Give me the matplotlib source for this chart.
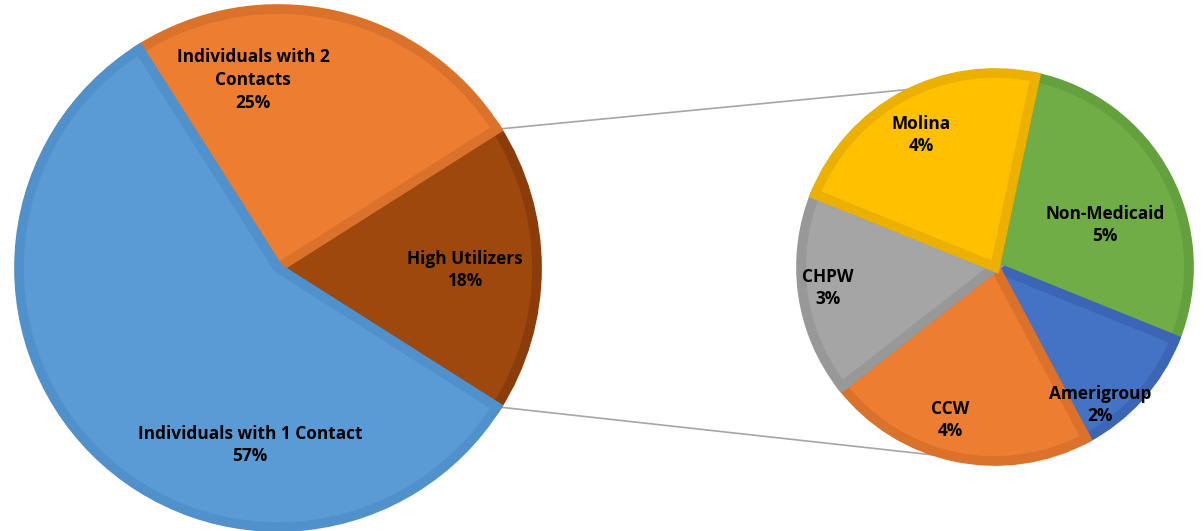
import numpy as np
import matplotlib
matplotlib.use("Agg")
import matplotlib.pyplot as plt

# main pie
main_labels = ["High Utilizers", "Individuals with 2\nContacts", "Individuals with 1 Contact"]
main_values = [18, 25, 57]
main_colors = ["#9E480E", "#ED7D31", "#5B9BD5"]
main_edges = ["#8A3D0B", "#DB722B", "#5090CB"]

# breakdown of high utilizers
sub_labels = ["Non-Medicaid", "Amerigroup", "CCW", "CHPW", "Molina"]
sub_values = [5, 2, 4, 3, 4]
sub_colors = ["#70AD47", "#4472C4", "#ED7D31", "#A5A5A5", "#FFC000"]
sub_edges = ["#64A03E", "#3C66B5", "#DB722B", "#989898", "#EBB000"]

W, H = 1204, 531
fig = plt.figure(figsize=(W / 100, H / 100), dpi=100)
ax = fig.add_axes([0, 0, 1, 1])

c1, r1 = (278, 263), 259
c2, r2 = (995, 264), 194

half = 360 * main_values[0] / 100 / 2
w1, _ = ax.pie(main_values, colors=main_colors, startangle=-half,
               center=c1, radius=r1, frame=True)
w2, _ = ax.pie(sub_values, colors=sub_colors, startangle=78, counterclock=False,
               center=c2, radius=r2, frame=True)
ax.set_xlim(0, W)
ax.set_ylim(0, H)
ax.set_aspect("equal")
ax.axis("off")

# darker inner border like Excel
for w, ec in zip(list(w1) + list(w2), main_edges + sub_edges):
    w.set_edgecolor(ec)
    w.set_linewidth(7)
    w.set_clip_path(w)

# connector lines
a_top = np.radians(half)
a_bot = np.radians(-half)
ax.plot([c1[0] + r1 * np.cos(a_top), c2[0] + r2 * np.cos(np.radians(78))],
        [c1[1] + r1 * np.sin(a_top), c2[1] + r2 * np.sin(np.radians(78))],
        color="#A6A6A6", lw=1.2, zorder=0)
ax.plot([c1[0] + r1 * np.cos(a_bot), c2[0] + r2 * np.cos(np.radians(-100))],
        [c1[1] + r1 * np.sin(a_bot), c2[1] + r2 * np.sin(np.radians(-100))],
        color="#A6A6A6", lw=1.2, zorder=0)

# data labels
main_pos = [(465, 261), (253, 451), (250, 86)]
sub_pos = [(1105, 306), (1100, 126), (950, 111), (828, 243), (921, 396)]
kw = dict(ha="center", va="center", fontsize=12.4, fontweight="bold",
          family="Open Sans", linespacing=1.35, color="black")
for lab, v, p in zip(main_labels, main_values, main_pos):
    ax.text(p[0], p[1], f"{lab}\n{v}%", **kw)
for lab, v, p in zip(sub_labels, sub_values, sub_pos):
    ax.text(p[0], p[1], f"{lab}\n{v}%", **kw)

fig.savefig("out.png", dpi=100, facecolor="white")
